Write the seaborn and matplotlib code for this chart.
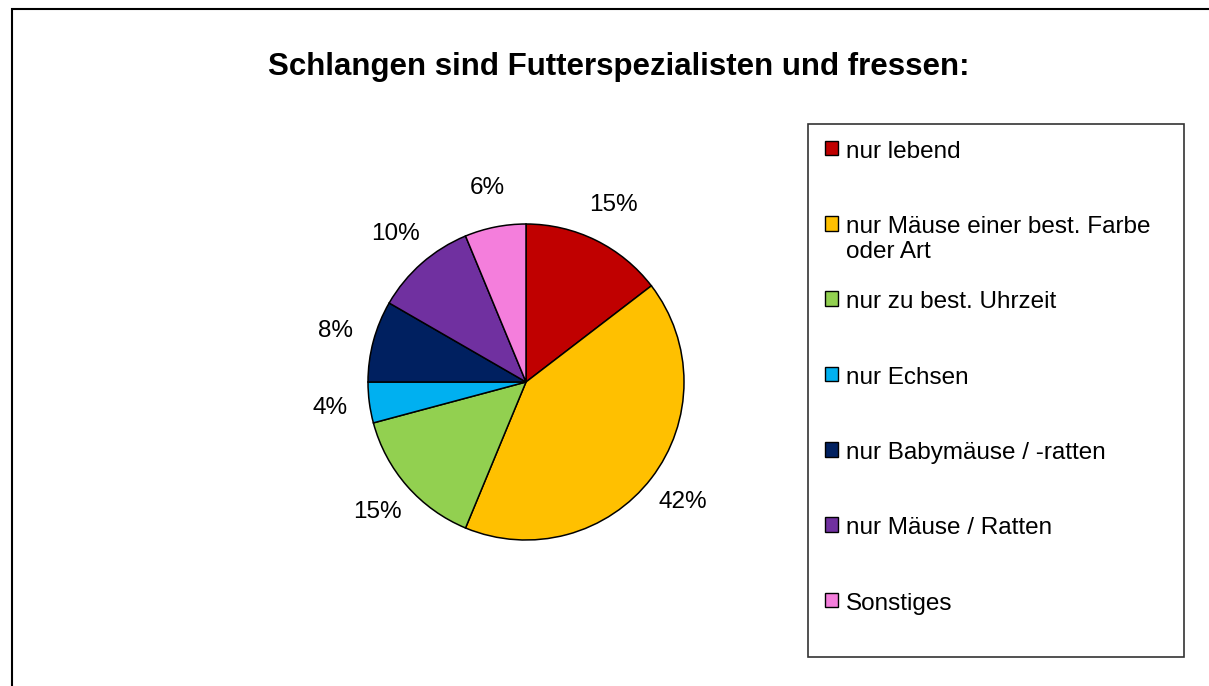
import matplotlib
matplotlib.use("Agg")
import matplotlib.pyplot as plt
from matplotlib.patches import Patch, Rectangle
import seaborn as sns

title = "Schlangen sind Futterspezialisten und fressen:"
categories = [
    "nur lebend",
    "nur Mäuse einer best. Farbe\noder Art",
    "nur zu best. Uhrzeit",
    "nur Echsen",
    "nur Babymäuse / -ratten",
    "nur Mäuse / Ratten",
    "Sonstiges",
]
counts = [7, 20, 7, 2, 4, 5, 3]
colors = ["#C00000", "#FFC000", "#92D050", "#00B0F0", "#002060", "#7030A0", "#F47EDC"]

sns.set_theme(style="white")
plt.rcParams["font.family"] = ["Liberation Sans", "DejaVu Sans"]
plt.rcParams["text.color"] = "black"

W, H = 1209, 686
fig = plt.figure(figsize=(W / 100, H / 100), dpi=100)
fig.patch.set_facecolor("white")

# outer chart-area border (runs off right/bottom edges)
fig.patches.append(Rectangle((12 / W, -0.1), 1.2, 1.1 - 9 / H, transform=fig.transFigure,
                             fill=False, edgecolor="black", linewidth=1.5, zorder=10))

cx, cy, r = 526, 382, 158
ax = fig.add_axes([(cx - r) / W, (H - cy - r) / H, 2 * r / W, 2 * r / H])
palette = sns.color_palette(colors)
wedges, texts, autotexts = ax.pie(
    counts, colors=palette, startangle=90, counterclock=False,
    autopct="%1.0f%%", pctdistance=1.25,
    wedgeprops=dict(edgecolor="black", linewidth=1.1),
    textprops=dict(fontsize=17.5, color="black"),
)
ax.set_xlim(-1, 1)
ax.set_ylim(-1, 1)
ax.set_aspect("equal")
ax.axis("off")

fig.text(619 / W, 1 - 75 / H, title, va="baseline", ha="center",
         fontsize=22.5, fontweight="bold", color="black")

handles = [Patch(facecolor=c, edgecolor="black", linewidth=1.0) for c in palette]
labels = [c if "\n" in c else c + "\n " for c in categories]
x0, y0 = 808 / W, (H - 654) / H
leg = fig.legend(handles, labels, loc="upper left",
                 bbox_to_anchor=(x0, y0, 376 / W, 530 / H), mode="expand",
                 fontsize=17.5, frameon=True, fancybox=False, edgecolor="black",
                 handlelength=0.55, handleheight=0.55, handletextpad=0.35,
                 labelspacing=1.15, borderpad=0.68, borderaxespad=0)
leg.get_frame().set_linewidth(1.2)
for t in leg.get_texts():
    t.set_color("black")
for col in leg._legend_handle_box.get_children():
    for item in col.get_children():
        item.align = "top"

fig.savefig("out.png", dpi=100, facecolor="white")
